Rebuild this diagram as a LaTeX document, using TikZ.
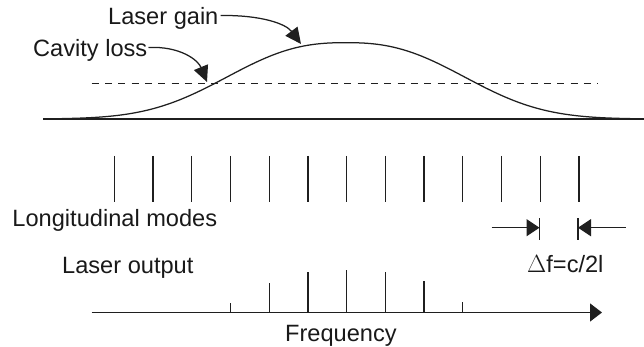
\documentclass[tikz,border=0pt]{standalone}
\usepackage{fontspec}
\setmainfont{Liberation Sans}
\usetikzlibrary{arrows.meta,calc}
\tikzset{
  lbl/.style={anchor=base west,inner sep=0pt,font=\fontsize{23.6}{28}\selectfont,text=black!90},
  ln/.style={line width=1.25pt,black!88},
  pointer/.style={ln,-{Triangle[length=16pt,width=15pt]}},
  spacing/.style={ln,-{Triangle[length=13pt,width=17pt]}},
  axis/.style={ln,line width=1.35pt,-{Triangle[length=12pt,width=18pt]}},
  loss/.style={ln,dash pattern=on 7pt off 6.3pt}
}
\begin{document}
\begin{tikzpicture}[x=1pt,y=-1pt,
  declare function={gd(\t)=abs(\t-345.8)/146;}]
\useasboundingbox (0,0) rectangle (644,347);
% labels
\node[lbl] (lg) at (108,25) {Laser gain};
\node[lbl] (cl) at (33,56.5) {Cavity loss};
\node[lbl] (lm) at (12.3,226) {Longitudinal modes};
\node[lbl] (lo) at (62,273) {Laser output};
\node[lbl] (df) at (527,272) {$\Delta$f=c/2l};
\node[lbl] (fr) at (285,341.5) {Frequency};
% gain curve and axes
\coordinate (b0) at (43,119);
\coordinate (b1) at (644,119);
\draw[ln,line width=1.35pt] (b0) -- (b1);
\coordinate (d0) at (91.7,83.5);
\coordinate (d1) at (598,83.5);
\draw[loss] (d0) -- (d1);
\draw[ln] plot[domain=62:630,samples=200,smooth]
  (\x,{119-76.3*exp(-1*(gd(\x)*gd(\x)*sqrt(gd(\x))))});
% pointers
\coordinate (lgs) at ($(lg.base east)+(2,-9.5)$);
\coordinate (gtip) at (301,44);
\draw[pointer] (lgs) .. controls (262,15) and (286,24) .. (gtip);
\coordinate (cls) at ($(cl.base east)+(1,-9)$);
\coordinate (ctip) at (207,82);
\draw[pointer] (cls) .. controls (180,46) and (198,60) .. (ctip);
% longitudinal modes
\foreach \i in {0,...,12}{
  \coordinate (mt\i) at (114.3+38.72*\i,156);
  \coordinate (mb\i) at (114.3+38.72*\i,202);
  \draw[ln] (mt\i) -- (mb\i);
}
% delta f marker
\coordinate (ba) at (539.5,218);
\coordinate (bb) at (539.5,240);
\coordinate (bc) at (578,218);
\coordinate (bd) at (578,240);
\draw[ln] (ba) -- (bb);
\draw[ln] (bc) -- (bd);
\coordinate (al) at (491.7,227.7);
\coordinate (ar) at (625.7,227.7);
\coordinate (ta) at (539.5,227.7);
\coordinate (tb) at (578,227.7);
\draw[spacing] (al) -- (ta);
\draw[spacing] (ar) -- (tb);
% laser output
\coordinate (f0) at (91.7,312.5);
\coordinate (f1) at (602,312.5);
\draw[axis] (f0) -- (f1);
\foreach \i/\h in {3/303,4/283,5/272,6/270,7/272,8/281,9/302}{
  \coordinate (ot\i) at (114.3+38.72*\i,\h);
  \coordinate (ob\i) at (114.3+38.72*\i,312.5);
  \draw[ln] (ob\i) -- (ot\i);
}
\end{tikzpicture}
\end{document}
